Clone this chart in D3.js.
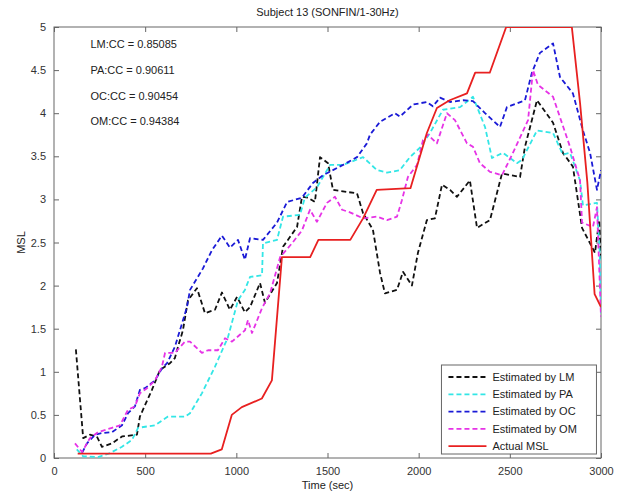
<!DOCTYPE html>
<html>
<head>
<meta charset="utf-8">
<script src="https://cdn.jsdelivr.net/npm/d3@7"></script>
<style>
    body { margin: 0; background: #fff; }
    text { font-family: Arial, "Liberation Sans", sans-serif; }
</style>
</head>
<body>
<div id="main"></div>
<script>
const TITLE = 'Subject 13 (SONFIN/1-30Hz)'
const X_TICKS = [0, 500, 1000, 1500, 2000, 2500, 3000]
const Y_TICKS = [0, 0.5, 1, 1.5, 2, 2.5, 3, 3.5, 4, 4.5, 5]
const CC_LABELS = ['LM:CC = 0.85085', 'PA:CC = 0.90611', 'OC:CC = 0.90454', 'OM:CC = 0.94384']
const CC_Y = [4.8, 4.5, 4.2, 3.91]

const lmTime = [120,160,197,235,263,318,373,455,471,537,581,636,663,680,707,735,784,828,883,921,965,1004,1047,1075,1130,1157,1223,1256,1333,1360,1393,1431,1459,1503,1530,1662,1695,1749,1788,1815,1881,1914,1963,1996,2045,2089,2128,2172,2210,2281,2320,2391,2457,2556,2583,2649,2737,2791,2846,2896,2940,2967,2990,3000]
const lmValues = [1.26,0.23,0.27,0.25,0.13,0.17,0.25,0.27,0.48,0.79,1.02,1.1,1.16,1.29,1.48,1.83,1.97,1.68,1.72,1.92,1.72,1.87,1.69,1.75,2.03,1.8,2.03,2.45,2.68,3.03,3.02,2.97,3.49,3.42,3.11,3.07,2.84,2.65,2.15,1.91,1.95,2.16,2.0,2.38,2.76,2.78,3.17,3.11,3.03,3.22,2.67,2.76,3.3,3.26,3.61,4.15,3.89,3.54,3.38,2.67,2.49,2.38,2.76,2.3]

const paTime = [125,160,241,300,373,428,461,554,625,718,746,811,883,954,1009,1047,1075,1141,1146,1223,1256,1349,1376,1442,1514,1585,1695,1771,1826,1897,1952,2007,2062,2133,2227,2298,2364,2402,2462,2539,2567,2649,2737,2791,2830,2885,2901,2978,2993,3000]
const paValues = [0.1,0.02,0.01,0.05,0.13,0.21,0.35,0.38,0.48,0.48,0.52,0.75,1.06,1.4,1.83,1.95,2.1,2.12,2.49,2.53,2.8,2.82,3.02,3.14,3.4,3.4,3.49,3.34,3.31,3.34,3.49,3.6,3.77,4.04,4.07,4.19,3.84,3.48,3.54,3.42,3.46,3.8,3.77,3.52,3.54,3.22,2.93,2.96,2.38,1.68]

const ocTime = [154,181,225,263,318,373,406,444,471,499,554,592,620,663,702,729,746,817,866,921,965,1009,1047,1075,1146,1223,1278,1360,1420,1475,1585,1662,1716,1733,1788,1870,1897,1969,2045,2078,2117,2172,2243,2298,2364,2446,2484,2583,2621,2665,2737,2775,2846,2901,2940,2978,3000]
const ocValues = [0.06,0.17,0.27,0.29,0.3,0.38,0.52,0.6,0.79,0.81,0.9,1.04,1.1,1.29,1.56,1.75,1.95,2.2,2.41,2.58,2.44,2.53,2.3,2.55,2.53,2.73,2.97,3.02,3.19,3.28,3.4,3.49,3.65,3.75,3.9,4.0,3.96,4.1,4.13,4.08,4.18,4.13,4.15,4.14,4.0,3.84,4.07,4.15,4.47,4.7,4.81,4.42,4.23,3.8,3.54,3.11,3.34]

const omTime = [115,154,197,241,318,362,406,444,471,510,554,592,609,663,718,746,811,845,899,938,976,1047,1064,1086,1141,1185,1240,1305,1360,1404,1442,1497,1541,1580,1623,1695,1771,1826,1881,1908,1941,1991,2024,2051,2100,2155,2199,2265,2298,2336,2391,2457,2517,2600,2627,2654,2737,2830,2885,2896,2956,2978,3000]
const omValues = [0.17,0.07,0.23,0.3,0.35,0.38,0.56,0.6,0.75,0.81,0.9,1.06,1.22,1.22,1.35,1.35,1.22,1.25,1.25,1.39,1.35,1.48,1.6,1.45,1.74,1.91,2.33,2.49,2.64,2.88,2.74,2.96,3.03,2.88,2.85,2.78,2.8,2.76,2.8,2.99,3.26,3.4,3.69,3.75,3.65,4.0,3.92,3.65,3.61,3.42,3.32,3.28,3.54,3.92,4.5,4.33,4.19,3.61,3.22,2.73,2.68,2.91,1.64]

const mslTime = [130,860,920,975,1030,1140,1195,1250,1405,1450,1625,1695,1770,1955,2045,2100,2170,2265,2310,2390,2480,2840,2885,2925,2965,3000]
const mslValues = [0.05,0.05,0.1,0.5,0.59,0.69,0.9,2.33,2.33,2.53,2.53,2.78,3.11,3.13,3.77,4.06,4.15,4.23,4.47,4.47,5.0,5.0,4.12,3.2,1.9,1.75]

const SERIES = [
    { name: 'Estimated by LM', time: lmTime, values: lmValues, color: '#111111', dash: '5,3' },
    { name: 'Estimated by PA', time: paTime, values: paValues, color: '#33e6e6', dash: '5,3' },
    { name: 'Estimated by OC', time: ocTime, values: ocValues, color: '#1a1ad6', dash: '5,3' },
    { name: 'Estimated by OM', time: omTime, values: omValues, color: '#e633e6', dash: '5,3' },
    { name: 'Actual MSL', time: mslTime, values: mslValues, color: '#e82020', dash: null }
]

const width = 624
const height = 495
const margin = { top: 27, right: 23, bottom: 37, left: 54 }
const innerW = width - margin.left - margin.right
const innerH = height - margin.top - margin.bottom

const svg = d3.select('#main')
                .append('svg')
                .attr('width', width)
                .attr('height', height)

const x = d3.scaleLinear().domain([0, 3000]).range([0, innerW])
const y = d3.scaleLinear().domain([0, 5]).range([innerH, 0])

const g = svg.append('g').attr('transform', 'translate(' + margin.left + ',' + margin.top + ')')

g.append('clipPath').attr('id', 'clip')
    .append('rect').attr('width', innerW).attr('height', innerH)

// axes (ticks inside, mirrored on top/right like matlab)
const axisColor = '#666'
const styleAxis = (sel, labels) => {
    sel.select('.domain').remove()
    sel.selectAll('.tick line').attr('stroke', axisColor)
    sel.selectAll('.tick text')
        .attr('fill', '#333')
        .style('font-size', '11px')
        .style('font-family', 'Arial, "Liberation Sans", sans-serif')
    if (!labels) sel.selectAll('.tick text').remove()
}

g.append('g').attr('transform', 'translate(0,' + innerH + ')')
    .call(d3.axisBottom(x).tickValues(X_TICKS).tickSize(-5).tickPadding(9).tickFormat(d3.format('d')))
    .call(s => styleAxis(s, true))
g.append('g')
    .call(d3.axisTop(x).tickValues(X_TICKS).tickSize(-5))
    .call(s => styleAxis(s, false))
g.append('g')
    .call(d3.axisLeft(y).tickValues(Y_TICKS).tickSize(-5).tickPadding(8).tickFormat(d => d))
    .call(s => styleAxis(s, true))
g.append('g').attr('transform', 'translate(' + innerW + ',0)')
    .call(d3.axisRight(y).tickValues(Y_TICKS).tickSize(-5))
    .call(s => styleAxis(s, false))

g.append('rect')
    .attr('width', innerW)
    .attr('height', innerH)
    .attr('fill', 'none')
    .attr('stroke', axisColor)
    .attr('stroke-width', 1)

const line = d3.line()
                .x(d => x(d[0]))
                .y(d => y(d[1]))

const lines = g.append('g').attr('clip-path', 'url(#clip)')
SERIES.forEach((s) => {
    const pts = s.time.map((t, i) => [t, s.values[i]])
    lines.append('path')
        .datum(pts)
        .attr('d', line)
        .attr('fill', 'none')
        .attr('stroke', s.color)
        .attr('stroke-width', s.dash ? 1.8 : 1.8)
        .attr('stroke-dasharray', s.dash)
        .attr('stroke-linejoin', 'round')
})

// correlation annotations
g.selectAll('.cc')
    .data(CC_LABELS)
    .enter()
    .append('text')
    .attr('class', 'cc')
    .attr('x', x(200))
    .attr('y', (d, i) => y(CC_Y[i]))
    .attr('dy', '0.35em')
    .style('font-size', '11px')
    .attr('fill', '#222')
    .text(d => d)

// legend
const legend = g.append('g').attr('transform', 'translate(' + (x(2125)) + ',' + (innerH - 93) + ')')
legend.append('rect')
    .attr('width', 155)
    .attr('height', 89)
    .attr('fill', '#fff')
    .attr('stroke', axisColor)
const item = legend.selectAll('.legend-item')
    .data(SERIES)
    .enter()
    .append('g')
    .attr('class', 'legend-item')
    .attr('transform', (d, i) => 'translate(0,' + (12 + 17.3 * i) + ')')
item.append('line')
    .attr('x1', 7).attr('x2', 45)
    .attr('stroke', d => d.color)
    .attr('stroke-width', 1.8)
    .attr('stroke-dasharray', d => d.dash)
item.append('text')
    .attr('x', 51)
    .attr('dy', '0.35em')
    .style('font-size', '11px')
    .attr('fill', '#222')
    .text(d => d.name)

// titles
svg.append('text')
    .attr('x', margin.left + innerW / 2)
    .attr('y', 16)
    .attr('text-anchor', 'middle')
    .style('font-size', '11px')
    .attr('fill', '#222')
    .text(TITLE)
svg.append('text')
    .attr('x', margin.left + innerW / 2)
    .attr('y', 489)
    .attr('text-anchor', 'middle')
    .style('font-size', '11px')
    .attr('fill', '#222')
    .text('Time (sec)')
svg.append('text')
    .attr('transform', 'translate(25,' + (margin.top + innerH / 2) + ') rotate(-90)')
    .attr('text-anchor', 'middle')
    .style('font-size', '11px')
    .attr('fill', '#222')
    .text('MSL')
</script>
</body>
</html>
